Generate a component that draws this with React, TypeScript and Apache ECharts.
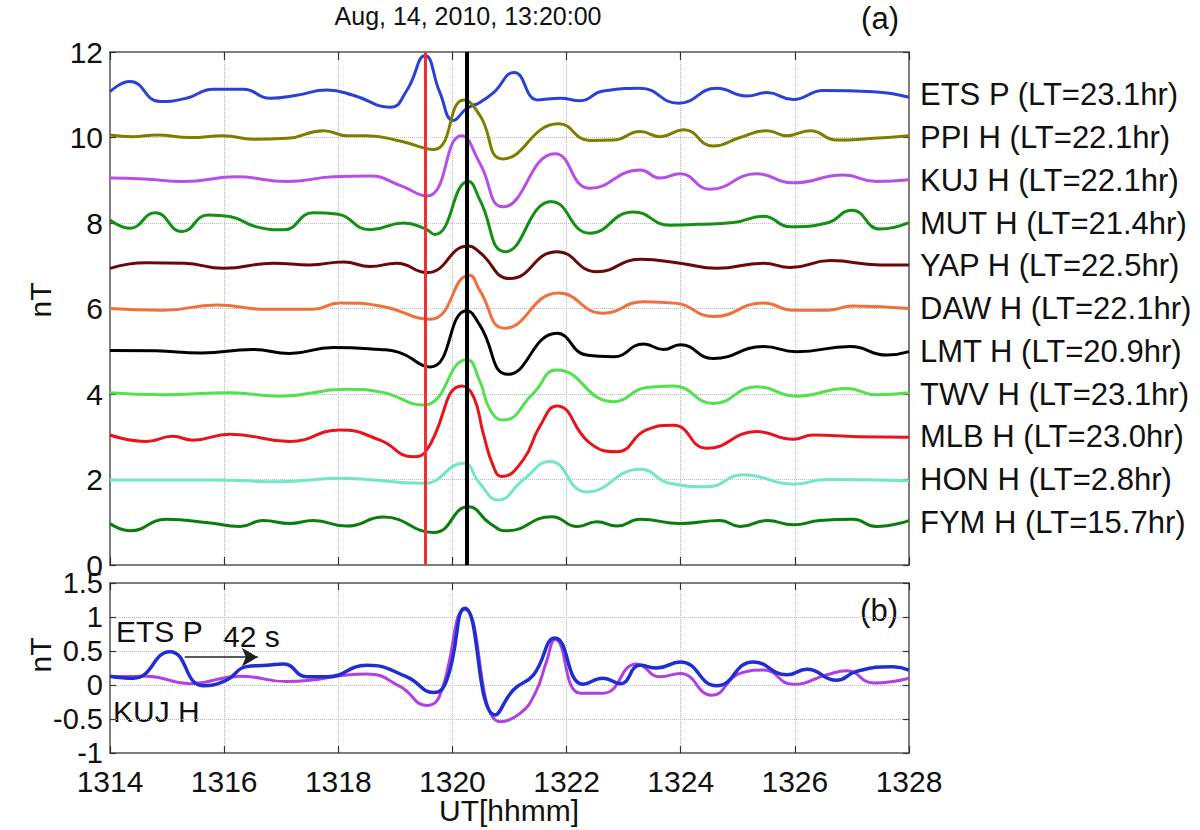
import React, { useEffect, useRef } from "react";
import * as echarts from "echarts";

const FONT = "Liberation Sans, Arial, Helvetica, sans-serif";

const xTicks = [1314, 1316, 1318, 1320, 1322, 1324, 1326, 1328];
const stations = [
  "ETS P (LT=23.1hr)",
  "PPI H (LT=22.1hr)",
  "KUJ H (LT=22.1hr)",
  "MUT H (LT=21.4hr)",
  "YAP H (LT=22.5hr)",
  "DAW H (LT=22.1hr)",
  "LMT H (LT=20.9hr)",
  "TWV H (LT=23.1hr)",
  "MLB H (LT=23.0hr)",
  "HON H (LT=2.8hr)",
  "FYM H (LT=15.7hr)",
];
const colors = [
  "#2a40d8", "#7d7d00", "#b84ee8", "#139013", "#6a0808", "#f0703c",
  "#000000", "#55e050", "#e8141c", "#72e6c6", "#0b7d0b",
];

const ETS_P = [[1314.0, 11.07], [1314.35, 11.31], [1314.88, 10.84], [1315.34, 10.92], [1315.81, 11.13], [1316.34, 11.13], [1316.8, 10.92], [1317.27, 10.99], [1317.8, 11.11], [1318.26, 10.99], [1318.91, 10.71], [1319.2, 11.1], [1319.52, 11.91], [1319.78, 11.05], [1320.02, 10.4], [1320.25, 10.68], [1320.48, 10.82], [1320.72, 11.05], [1321.08, 11.52], [1321.5, 10.88], [1321.89, 10.92], [1322.24, 10.86], [1322.64, 11.09], [1323.29, 11.15], [1323.96, 10.8], [1324.63, 11.15], [1325.16, 10.97], [1325.51, 11.05], [1325.97, 10.89], [1326.5, 11.1], [1327.38, 11.07], [1328.0, 10.94]];
const PPI_H = [[1314.0, 10.06], [1314.4, 10.02], [1314.82, 10.06], [1315.4, 10.0], [1315.99, 10.04], [1316.51, 9.96], [1317.1, 9.98], [1317.74, 10.16], [1318.15, 10.04], [1318.5, 10.04], [1319.08, 9.92], [1319.67, 9.72], [1320.2, 10.88], [1320.48, 10.52], [1320.89, 9.5], [1321.86, 10.32], [1322.41, 9.93], [1322.82, 9.94], [1323.29, 10.14], [1323.64, 10.02], [1324.05, 10.18], [1324.57, 9.8], [1325.04, 10.0], [1325.51, 10.16], [1325.86, 10.04], [1326.27, 10.16], [1326.73, 9.94], [1327.38, 9.98], [1328.0, 10.04]];
const KUJ_H = [[1314.0, 9.05], [1314.6, 9.03], [1315.28, 8.97], [1316.22, 9.08], [1317.1, 8.97], [1317.91, 9.08], [1318.56, 9.1], [1319.08, 8.88], [1319.55, 8.63], [1320.16, 10.04], [1320.48, 9.4], [1320.89, 8.38], [1321.8, 9.62], [1322.41, 8.81], [1323.29, 9.24], [1323.64, 9.05], [1323.99, 9.15], [1324.51, 8.79], [1325.33, 9.15], [1325.97, 8.94], [1326.85, 9.12], [1327.43, 8.97], [1328.0, 9.01]];
const MUT_H = [[1314.0, 8.07], [1314.35, 7.88], [1314.79, 8.24], [1315.26, 7.8], [1315.72, 8.19], [1316.1, 8.15], [1316.57, 7.91], [1317.04, 7.84], [1317.56, 8.24], [1317.97, 8.21], [1318.56, 7.84], [1319.14, 8.0], [1319.52, 7.87], [1319.69, 7.73], [1320.28, 8.97], [1320.48, 8.54], [1320.93, 7.33], [1321.74, 8.5], [1322.41, 7.76], [1323.17, 8.26], [1323.81, 7.95], [1324.3, 7.97], [1324.92, 8.01], [1325.45, 8.16], [1325.92, 7.91], [1326.56, 8.0], [1327.0, 8.3], [1327.49, 7.86], [1328.0, 8.01]];
const YAP_H = [[1314.0, 6.94], [1314.64, 7.07], [1315.3, 7.06], [1315.99, 6.94], [1316.86, 7.06], [1317.5, 7.02], [1318.09, 7.09], [1318.56, 6.98], [1319.02, 7.06], [1319.55, 6.84], [1320.28, 7.46], [1320.48, 7.31], [1321.01, 6.7], [1321.83, 7.33], [1322.53, 6.86], [1323.29, 7.15], [1323.99, 7.06], [1324.63, 6.94], [1325.45, 7.06], [1325.92, 6.96], [1326.62, 7.12], [1327.49, 7.02], [1328.0, 7.02]];
const DAW_H = [[1314.0, 6.0], [1314.93, 5.96], [1315.87, 6.08], [1316.75, 5.98], [1317.55, 5.98], [1318.03, 6.13], [1318.73, 6.06], [1319.61, 5.75], [1320.3, 6.78], [1320.48, 6.42], [1320.92, 5.54], [1321.86, 6.36], [1322.64, 5.89], [1323.35, 6.16], [1323.93, 6.12], [1324.57, 5.81], [1325.45, 6.13], [1325.97, 5.96], [1326.56, 5.96], [1327.02, 6.06], [1328.0, 6.0]];
const LMT_H = [[1314.0, 5.02], [1314.8, 5.01], [1315.6, 4.96], [1316.5, 5.04], [1317.15, 4.95], [1317.91, 5.09], [1318.73, 5.04], [1319.05, 4.98], [1319.61, 4.63], [1320.25, 5.95], [1320.48, 5.61], [1320.98, 4.46], [1321.83, 5.42], [1322.35, 4.91], [1322.82, 4.87], [1323.35, 5.17], [1323.7, 5.04], [1323.99, 5.15], [1324.57, 4.83], [1325.45, 5.11], [1326.03, 4.99], [1326.97, 5.11], [1327.61, 4.91], [1328.0, 4.99]];
const TWV_H = [[1314.0, 4.03], [1314.91, 3.98], [1316.1, 4.03], [1316.97, 3.95], [1318.15, 4.11], [1318.73, 4.05], [1319.49, 3.74], [1320.25, 4.8], [1320.48, 4.3], [1320.66, 3.63], [1320.89, 3.39], [1321.42, 4.02], [1321.83, 4.56], [1322.82, 3.82], [1323.4, 4.15], [1323.87, 4.19], [1324.57, 3.78], [1325.33, 4.17], [1326.03, 3.95], [1326.91, 4.13], [1327.43, 3.98], [1328.0, 4.03]];
const MLB_H = [[1314.0, 3.04], [1314.64, 2.89], [1315.1, 3.01], [1315.45, 2.92], [1316.1, 3.06], [1317.15, 2.89], [1318.03, 3.16], [1318.73, 2.92], [1319.31, 2.53], [1319.55, 2.69], [1320.17, 4.19], [1320.37, 3.94], [1320.54, 3.08], [1320.72, 2.3], [1320.86, 2.07], [1321.24, 2.46], [1321.53, 3.24], [1321.83, 3.72], [1322.41, 2.85], [1322.88, 2.65], [1323.4, 3.16], [1323.87, 3.27], [1324.46, 2.73], [1325.33, 3.12], [1325.97, 2.94], [1326.32, 3.04], [1327.1, 3.0], [1328.0, 2.99]];
const HON_H = [[1314.0, 1.99], [1315.81, 1.99], [1316.97, 1.95], [1318.03, 2.03], [1319.49, 1.91], [1320.19, 2.38], [1320.48, 1.91], [1320.8, 1.52], [1321.24, 1.99], [1321.71, 2.42], [1322.35, 1.71], [1323.29, 2.24], [1323.81, 1.91], [1324.46, 1.83], [1325.1, 2.11], [1325.97, 1.89], [1326.56, 2.0], [1328.0, 1.97]];
const FYM_H = [[1314.0, 0.97], [1314.35, 0.8], [1314.99, 1.07], [1315.72, 0.99], [1316.28, 0.9], [1316.68, 1.04], [1317.15, 0.97], [1317.56, 1.04], [1318.15, 0.91], [1318.79, 1.12], [1319.67, 0.76], [1320.28, 1.36], [1320.66, 0.97], [1320.95, 0.8], [1321.74, 1.13], [1322.19, 0.9], [1322.53, 1.01], [1322.88, 0.91], [1323.29, 1.07], [1323.99, 0.97], [1324.69, 1.04], [1325.04, 0.9], [1325.51, 1.04], [1325.97, 0.94], [1326.44, 1.04], [1327.02, 1.07], [1327.43, 0.9], [1328.0, 1.04]];

const topTraces = [ETS_P, PPI_H, KUJ_H, MUT_H, YAP_H, DAW_H, LMT_H, TWV_H, MLB_H, HON_H, FYM_H];

// bottom panel (b)
const ETS_P_shifted = [[1314.0, 0.13], [1314.41, 0.1], [1315.05, 0.49], [1315.63, -0.01], [1316.04, 0.07], [1316.39, 0.27], [1316.75, 0.29], [1317.04, 0.31], [1317.45, 0.12], [1317.8, 0.12], [1318.5, 0.29], [1319.2, 0.12], [1319.67, -0.11], [1319.9, 0.07], [1320.22, 1.13], [1320.75, -0.44], [1321.07, -0.07], [1321.42, 0.15], [1321.8, 0.69], [1322.29, 0.01], [1322.64, 0.1], [1322.94, 0.02], [1323.29, 0.29], [1323.58, 0.25], [1323.99, 0.34], [1324.63, -0.01], [1325.27, 0.34], [1325.86, 0.15], [1326.21, 0.23], [1326.73, 0.07], [1327.08, 0.2], [1327.72, 0.27], [1328.0, 0.22]];
const KUJ_H_b = [[1314.0, 0.12], [1314.64, 0.13], [1315.4, 0.02], [1316.28, 0.13], [1317.1, 0.05], [1318.5, 0.16], [1319.08, -0.02], [1319.55, -0.3], [1319.78, -0.15], [1320.22, 1.11], [1320.83, -0.54], [1321.18, -0.42], [1321.45, -0.12], [1321.65, 0.35], [1321.8, 0.67], [1322.24, -0.12], [1322.64, -0.12], [1323.23, 0.31], [1323.64, 0.12], [1323.99, 0.17], [1324.54, -0.15], [1325.04, 0.17], [1325.45, 0.22], [1325.97, 0.01], [1326.56, 0.15], [1326.91, 0.21], [1327.38, 0.03], [1328.0, 0.1]];

const markerTimes = [1319.52, 1320.25];
const arrowFrom = [1315.31, 0.41];
const arrowTo = [1316.59, 0.41];

const AXIS = "#555555";
const gridLine = { show: true, lineStyle: { color: "#bdbdbd", type: "dotted", width: 1 }, showMinLine: false, showMaxLine: false };
const tickIn = (len: number) => ({ show: true, inside: true, length: len, lineStyle: { color: "#333", width: 1.2 } });

export default function App() {
  const ref = useRef<HTMLDivElement>(null);
  useEffect(() => {
    const chart = echarts.init(ref.current!, null, { renderer: "svg" });
    const xBase = { type: "value", min: 1314, max: 1328, interval: 2, axisLine: { show: true, onZero: false, lineStyle: { color: AXIS, width: 1.5 } } };
    const series: any[] = topTraces.map((d, i) => ({
      type: "line",
      name: stations[i],
      xAxisIndex: 0,
      yAxisIndex: 0,
      data: d,
      smooth: 0.5,
      symbol: "none",
      lineStyle: { color: colors[i], width: 3 },
      z: 3,
    }));
    series[0].markLine = {
      silent: true,
      symbol: "none",
      label: { show: false },
      z: 5,
      data: [
        { xAxis: markerTimes[0], lineStyle: { color: "#f03030", width: 3, type: "solid" } },
        { xAxis: markerTimes[1], lineStyle: { color: "#000", width: 4, type: "solid" } },
      ],
    };
    series.push({
      type: "line", name: "KUJ H b", xAxisIndex: 2, yAxisIndex: 3, data: KUJ_H_b, smooth: 0.5, symbol: "none",
      lineStyle: { color: "#b040e0", width: 3 }, z: 3,
    });
    series.push({
      type: "line", name: "ETS P b", xAxisIndex: 2, yAxisIndex: 3, data: ETS_P_shifted, smooth: 0.5, symbol: "none",
      lineStyle: { color: "#1e2ed0", width: 3.5 }, z: 4,
      markLine: {
        silent: true,
        symbol: ["none", "arrow"],
        symbolSize: [14, 16],
        label: { show: false },
        lineStyle: { color: "#222", width: 1.5, type: "solid" },
        data: [[{ coord: arrowFrom }, { coord: arrowTo }]],
      },
    });

    const text = (t: string, x: number, y: number, size: number, align = "center", rotation = 0) => ({
      type: "text", x, y, rotation,
      style: { text: t, fontSize: size, fontFamily: FONT, fill: "#111", align, verticalAlign: "middle" },
    });

    chart.setOption({
      animation: false,
      textStyle: { fontFamily: FONT },
      grid: [
        { left: 110, top: 52, width: 799, height: 513 },
        { left: 110, top: 583, width: 799, height: 170 },
      ],
      xAxis: [
        { ...xBase, gridIndex: 0, position: "bottom", axisTick: tickIn(8), axisLabel: { show: false }, splitLine: gridLine },
        { ...xBase, gridIndex: 0, position: "top", axisTick: tickIn(8), axisLabel: { show: false }, splitLine: { show: false } },
        {
          ...xBase, gridIndex: 1, position: "bottom", axisTick: tickIn(7), splitLine: gridLine,
          axisLabel: { show: true, fontSize: 30, color: "#111", margin: 13, formatter: (v: number) => String(v), customValues: xTicks },
        },
        { ...xBase, gridIndex: 1, position: "top", axisTick: tickIn(7), axisLabel: { show: false }, splitLine: { show: false } },
      ],
      yAxis: [
        {
          type: "value", gridIndex: 0, position: "left", min: 0, max: 12, interval: 2,
          axisLine: { show: true, onZero: false, lineStyle: { color: AXIS, width: 1.5 } }, axisTick: tickIn(6),
          axisLabel: { fontSize: 30, color: "#111", margin: 7 }, splitLine: gridLine,
        },
        {
          type: "value", gridIndex: 0, position: "right", min: 0, max: 12, interval: 2,
          axisLine: { show: true, onZero: false, lineStyle: { color: AXIS, width: 1.5 } }, axisTick: tickIn(6),
          axisLabel: { show: false }, splitLine: { show: false },
        },
        {
          type: "value", gridIndex: 0, position: "right", min: 0, max: 12, interval: 1,
          axisLine: { show: false }, axisTick: { show: false }, splitLine: { show: false },
          axisLabel: {
            fontSize: 31, color: "#111", margin: 11,
            formatter: (v: number) => (v >= 1 && v <= 11 ? stations[11 - Math.round(v)] : ""),
          },
        },
        {
          type: "value", gridIndex: 1, position: "left", min: -1, max: 1.5, interval: 0.5,
          axisLine: { show: true, onZero: false, lineStyle: { color: AXIS, width: 1.5 } }, axisTick: tickIn(6),
          axisLabel: { fontSize: 29, color: "#111", margin: 7 }, splitLine: gridLine,
        },
        {
          type: "value", gridIndex: 1, position: "right", min: -1, max: 1.5, interval: 0.5,
          axisLine: { show: true, onZero: false, lineStyle: { color: AXIS, width: 1.5 } }, axisTick: tickIn(6),
          axisLabel: { show: false }, splitLine: { show: false },
        },
      ],
      series,
      graphic: [
        text("Aug, 14, 2010, 13:20:00", 468, 16, 25),
        text("(a)", 880, 18, 31),
        text("(b)", 879, 610, 31),
        text("nT", 40, 300, 30, "center", Math.PI / 2),
        text("nT", 40, 655, 30, "center", Math.PI / 2),
        text("UT[hhmm]", 509, 810, 30),
        text("ETS P", 116, 631, 30, "left"),
        text("42 s", 223, 636, 30, "left"),
        text("KUJ H", 113, 711, 30, "left"),
      ],
    });
    return () => chart.dispose();
  }, []);
  return <div ref={ref} style={{ position: "absolute", left: 0, top: 0, width: 1200, height: 830, background: "#fff" }} />;
}
